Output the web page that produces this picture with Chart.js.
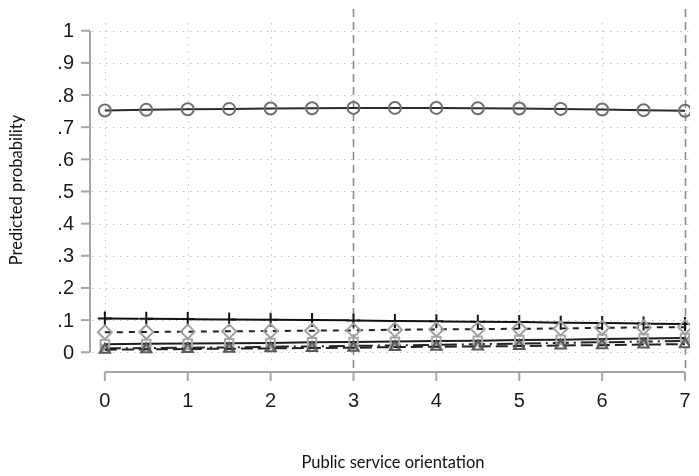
<!DOCTYPE html>
<html>
<head>
<meta charset="utf-8">
<script src="https://cdn.jsdelivr.net/npm/chart.js@4/dist/chart.umd.min.js"></script>
<style>
  html, body { margin: 0; padding: 0; background: #fff; }
  #wrap { width: 699px; height: 476px; }
</style>
</head>
<body>
<div id="wrap"><canvas id="c" width="699" height="476"></canvas></div>
<script>
// Public service orientation (0–7, step 0.5)
const xValues = [0, 0.5, 1, 1.5, 2, 2.5, 3, 3.5, 4, 4.5, 5, 5.5, 6, 6.5, 7];

// Predicted probability of each outcome
const circleSeries   = [0.752, 0.754, 0.756, 0.757, 0.758, 0.759, 0.760, 0.760, 0.760, 0.759, 0.758, 0.757, 0.755, 0.753, 0.751];
const plusSeries     = [0.105, 0.104, 0.103, 0.102, 0.101, 0.100, 0.099, 0.097, 0.096, 0.095, 0.094, 0.092, 0.091, 0.089, 0.088];
const diamondSeries  = [0.062, 0.063, 0.064, 0.065, 0.066, 0.067, 0.068, 0.070, 0.071, 0.072, 0.073, 0.074, 0.076, 0.077, 0.078];
const squareSeries   = [0.025, 0.026, 0.027, 0.028, 0.029, 0.031, 0.032, 0.033, 0.035, 0.036, 0.038, 0.039, 0.041, 0.043, 0.044];
const xMarkSeries    = [0.012, 0.013, 0.014, 0.015, 0.017, 0.018, 0.020, 0.021, 0.023, 0.025, 0.027, 0.029, 0.031, 0.033, 0.035];
const triangleSeries = [0.008, 0.009, 0.010, 0.011, 0.012, 0.013, 0.014, 0.016, 0.017, 0.018, 0.019, 0.021, 0.022, 0.024, 0.025];

// Axis ticks and reference lines
const yTicks = [0, 0.1, 0.2, 0.3, 0.4, 0.5, 0.6, 0.7, 0.8, 0.9, 1];
const yTickLabels = ['0', '.1', '.2', '.3', '.4', '.5', '.6', '.7', '.8', '.9', '1'];
const xTicks = [0, 1, 2, 3, 4, 5, 6, 7];
const xTickLabels = ['0', '1', '2', '3', '4', '5', '6', '7'];
const xRefLines = [3, 7];

const toPoints = arr => arr.map((v, i) => ({ x: xValues[i], y: v }));

function series(data, style, markerColor, lineColor, dash, radius) {
  return {
    data: toPoints(data),
    borderColor: lineColor,
    borderWidth: 2,
    borderDash: dash,
    pointStyle: style,
    pointRadius: radius,
    pointBorderColor: markerColor,
    pointBackgroundColor: 'rgba(255,255,255,0)',
    pointBorderWidth: 2,
    tension: 0,
    fill: false
  };
}

const TICK_FONT = '20px "Liberation Sans", Arial, sans-serif';
const TITLE_FONT = '16.5px Lato, "Open Sans", sans-serif';
const AXIS_COLOR = '#a6a6a6';

// Dotted grid, dashed reference lines, axes with ticks and titles
const statAxes = {
  id: 'statAxes',
  beforeDatasetsDraw(chart) {
    const ctx = chart.ctx;
    const xs = chart.scales.x, ys = chart.scales.y;
    const area = chart.chartArea;
    ctx.save();
    // grid
    ctx.strokeStyle = '#c4c4c4';
    ctx.lineWidth = 1;
    ctx.setLineDash([1.5, 5.5]);
    yTicks.forEach(v => {
      const y = Math.round(ys.getPixelForValue(v)) + 0.5;
      ctx.beginPath(); ctx.moveTo(area.left + 2, y); ctx.lineTo(area.right, y); ctx.stroke();
    });
    xTicks.forEach(v => {
      if (xRefLines.includes(v)) return;
      const x = Math.round(xs.getPixelForValue(v)) + 0.5;
      ctx.beginPath(); ctx.moveTo(x, area.top + 14); ctx.lineTo(x, area.bottom - 8); ctx.stroke();
    });
    // reference lines
    ctx.strokeStyle = '#8c8c8c';
    ctx.lineWidth = 1.6;
    ctx.setLineDash([8, 5]);
    xRefLines.forEach(v => {
      const x = Math.round(xs.getPixelForValue(v)) + 0.5;
      ctx.beginPath(); ctx.moveTo(x, area.top); ctx.lineTo(x, area.bottom); ctx.stroke();
    });
    ctx.setLineDash([]);

    // y axis
    ctx.strokeStyle = AXIS_COLOR;
    ctx.lineWidth = 2;
    const yTop = ys.getPixelForValue(1), yBot = ys.getPixelForValue(0);
    const ax = area.left;
    ctx.beginPath(); ctx.moveTo(ax, yTop); ctx.lineTo(ax, yBot); ctx.stroke();
    ctx.fillStyle = '#1a1a1a';
    ctx.font = TICK_FONT;
    ctx.textAlign = 'right';
    ctx.textBaseline = 'middle';
    yTicks.forEach((v, i) => {
      const y = ys.getPixelForValue(v);
      ctx.beginPath(); ctx.moveTo(ax - 9, y); ctx.lineTo(ax, y); ctx.stroke();
      ctx.fillText(yTickLabels[i], ax - 16, y + 1);
    });

    // x axis
    const ay = area.bottom;
    const xL = xs.getPixelForValue(0), xR = xs.getPixelForValue(7);
    ctx.beginPath(); ctx.moveTo(xL, ay); ctx.lineTo(xR, ay); ctx.stroke();
    ctx.textAlign = 'center';
    xTicks.forEach((v, i) => {
      const x = xs.getPixelForValue(v);
      ctx.beginPath(); ctx.moveTo(x, ay); ctx.lineTo(x, ay + 9); ctx.stroke();
      ctx.fillText(xTickLabels[i], x, ay + 29);
    });

    // titles
    ctx.fillStyle = '#111';
    ctx.font = TITLE_FONT;
    ctx.fillText('Public service orientation', 393, 463);
    ctx.save();
    ctx.translate(17, 190);
    ctx.rotate(-Math.PI / 2);
    ctx.fillText('Predicted probability', 0, 0);
    ctx.restore();
    ctx.restore();
  }
};

new Chart(document.getElementById('c'), {
  type: 'line',
  data: {
    datasets: [
      series(circleSeries,   'circle',   '#6e6e6e', '#2a2a2a', [],       6),
      series(diamondSeries,  'rectRot',  '#a0a0a0', '#222222', [6, 6],   7),
      series(triangleSeries, 'triangle', '#5a5a5a', '#222222', [12, 5],  6),
      series(squareSeries,   'rect',     '#a8a8a8', '#1e1e1e', [],       6),
      series(plusSeries,     'cross',    '#111111', '#111111', [34, 8],  7),
      series(xMarkSeries,    'crossRot', '#909090', '#222222', [16, 5, 2, 5], 7)
    ]
  },
  options: {
    responsive: false,
    animation: false,
    events: [],
    layout: { padding: { left: 90, right: 2, top: 5, bottom: 104 } },
    plugins: { legend: { display: false }, tooltip: { enabled: false } },
    scales: {
      x: { type: 'linear', display: false, min: -0.179, max: 7.06 },
      y: { type: 'linear', display: false, min: -0.0615, max: 1.0677 }
    }
  },
  plugins: [statAxes]
});
</script>
</body>
</html>
